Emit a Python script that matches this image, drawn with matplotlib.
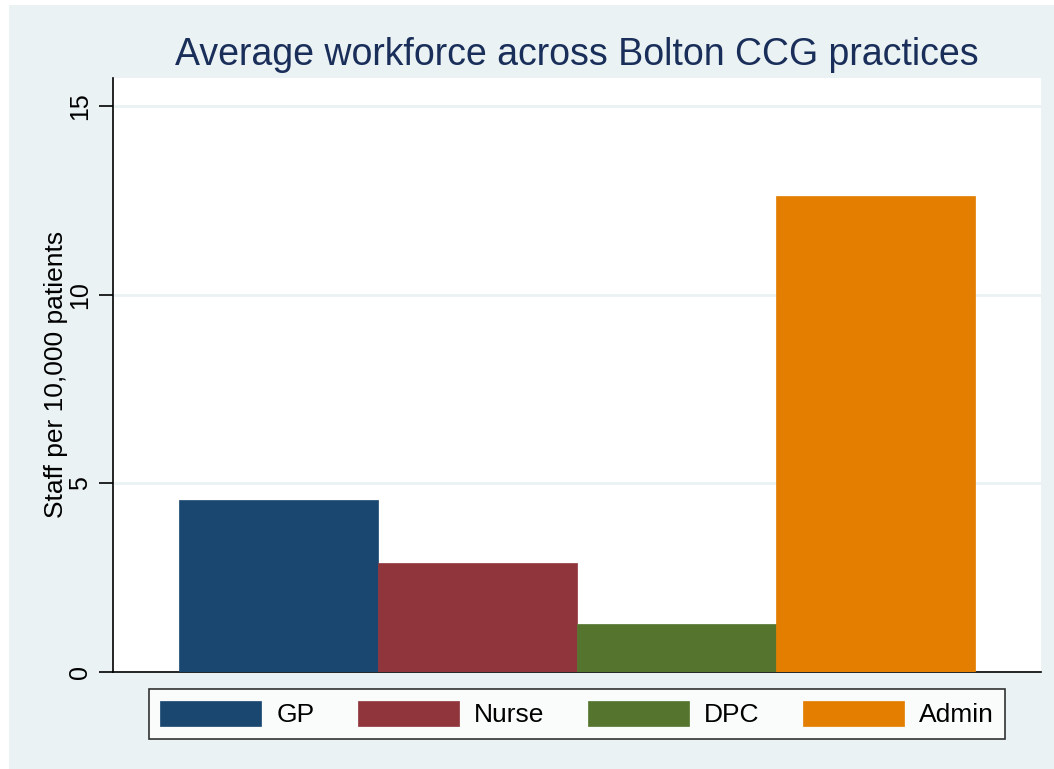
import matplotlib
matplotlib.use("Agg")
import matplotlib.pyplot as plt
from matplotlib.patches import Rectangle

plt.rcParams['font.family'] = ['Liberation Sans', 'DejaVu Sans']

categories = ["GP", "Nurse", "DPC", "Admin"]
values = [4.55, 2.89, 1.27, 12.61]
colors = ["#1a476f", "#90353b", "#55752f", "#e37e00"]
yticks = [0, 5, 10, 15]
title = "Average workforce across Bolton CCG practices"
ylabel = "Staff per 10,000 patients"

W, H = 1054, 769
fig = plt.figure(figsize=(W/100, H/100), dpi=100)
fig.patch.set_facecolor("white")
# Stata-like light background region
fig.patches.append(Rectangle((9/W, 0), 1 - 9/W, 1 - 5/H, transform=fig.transFigure,
                             facecolor="#eaf2f3", edgecolor="none", zorder=-10))

ax = fig.add_axes([113/W, (H-671.7)/H, (1041-113)/W, (671.7-78)/H])
ax.set_facecolor("white")

for i, (c, v, col) in enumerate(zip(categories, values, colors)):
    ax.bar(i, v, width=1.0, color=col, edgecolor=col, linewidth=0.5, label=c, zorder=3)

ax.set_xlim(-0.83, 3.83)
ax.set_ylim(0, 15.75)
ax.set_yticks(yticks)
ax.set_yticklabels([str(t) for t in yticks], rotation=90, va="center", fontsize=18)
ax.set_xticks([])
ax.tick_params(axis="y", length=10, width=1.2, pad=5)
for t in yticks[1:]:
    ax.axhline(t, color="#eaf2f3", linewidth=2, zorder=1)

for s in ["top", "right"]:
    ax.spines[s].set_visible(False)
ax.spines["left"].set_linewidth(1.2)
ax.spines["bottom"].set_linewidth(1.2)

ax.set_ylabel(ylabel, fontsize=19)
ax.yaxis.set_label_coords((68 - 113) / 928, 0.5)
fig.text(577/W, 1 - 65/H, title, ha="center", va="baseline", fontsize=27, color="#1a2e5a")

leg = fig.legend(loc="center", bbox_to_anchor=(577/W, (H-714)/H),
                 ncol=4, fontsize=19, frameon=True, fancybox=False,
                 handlelength=3.83, handleheight=1.07, handletextpad=0.57,
                 borderpad=0.43, borderaxespad=0, columnspacing=1.65)
leg.get_frame().set_edgecolor("black")
leg.get_frame().set_linewidth(1.2)

fig.savefig("out.png", dpi=100)
